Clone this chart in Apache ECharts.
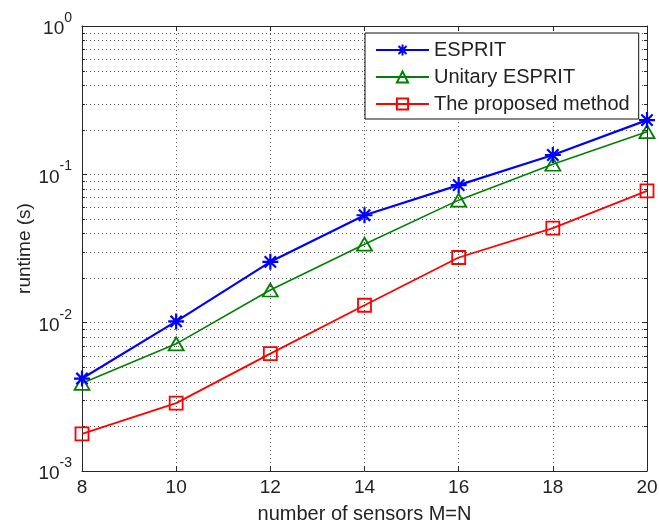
<!DOCTYPE html>
<html>
<head>
<meta charset="utf-8">
<script src="https://cdn.jsdelivr.net/npm/echarts@6/dist/echarts.min.js"></script>
<style>html,body{margin:0;padding:0;background:#fff;}#c{width:659px;height:526px;}</style>
</head>
<body>
<div id="c"></div>
<script>
const sensors = [8, 10, 12, 14, 16, 18, 20];
const esprit = [0.0042, 0.0102, 0.0257, 0.053, 0.0846, 0.135, 0.232];
const unitary = [0.0039, 0.0072, 0.0166, 0.0338, 0.067, 0.117, 0.194];
const proposed = [0.00178, 0.00287, 0.00618, 0.0131, 0.0275, 0.0434, 0.0774];
const seriesNames = ['ESPRIT', 'Unitary ESPRIT', 'The proposed method'];
const xTicks = [8, 10, 12, 14, 16, 18, 20];
const yRange = [0.001, 1];
const minorGrid = [0.002,0.003,0.004,0.005,0.006,0.007,0.008,0.009,
                   0.02,0.03,0.04,0.05,0.06,0.07,0.08,0.09,
                   0.2,0.3,0.4,0.5,0.6,0.7,0.8,0.9];

const xMin = xTicks[0], xMax = xTicks[xTicks.length - 1];
const pairs = arr => sensors.map((x, i) => [x, arr[i]]);
const txt = '#222';
const gridColor = '#555';
const font = 'Liberation Sans, Arial, sans-serif';
const starPath = 'path://M0,-10L0,10M-10,0L10,0M-7.07,-7.07L7.07,7.07M-7.07,7.07L7.07,-7.07';

const chart = echarts.init(document.getElementById('c'));
chart.setOption({
  animation: false,
  backgroundColor: '#fff',
  textStyle: { fontFamily: font },
  grid: { left: 82, right: 12, top: 26, bottom: 55, show: false, outerBoundsMode: 'none', containLabel: false },
  legend: {
    data: seriesNames,
    orient: 'vertical',
    left: 365, top: 33,
    padding: [7, 9, 5, 10],
    itemWidth: 53, itemHeight: 14, itemGap: 7,
    backgroundColor: '#fff',
    borderColor: '#111', borderWidth: 1, borderRadius: 0,
    textStyle: { fontSize: 20, color: txt, fontFamily: font }
  },
  xAxis: [{
    type: 'value', min: xMin, max: xMax, interval: 2,
    name: 'number of sensors M=N', nameLocation: 'middle', nameGap: 33,
    nameMoveOverlap: false,
    nameTextStyle: { fontSize: 20, color: txt, fontFamily: font },
    axisLine: { show: true, onZero: false, lineStyle: { color: '#262626', width: 1 } },
    axisTick: { show: true, inside: true, length: 5, lineStyle: { color: '#262626' } },
    axisLabel: { fontSize: 19, color: txt, margin: 7, fontFamily: font },
    splitLine: { show: true, lineStyle: { color: gridColor, type: [1, 3], width: 1 } }
  }, {
    type: 'value', min: xMin, max: xMax, interval: 2, position: 'top',
    axisLine: { show: true, onZero: false, lineStyle: { color: '#262626', width: 1 } },
    axisTick: { show: true, inside: true, length: 5, lineStyle: { color: '#262626' } },
    axisLabel: { show: false }, splitLine: { show: false }
  }],
  yAxis: [{
    type: 'log', logBase: 10, min: yRange[0], max: yRange[1],
    name: 'runtime (s)', nameLocation: 'middle', nameGap: 48,
    nameMoveOverlap: false,
    nameTextStyle: { fontSize: 19, color: txt, fontFamily: font },
    axisLine: { show: true, onZero: false, lineStyle: { color: '#262626', width: 1 } },
    axisTick: { show: true, inside: true, length: 5, lineStyle: { color: '#262626' } },
    axisLabel: {
      margin: 10, color: txt, padding: [6, 0, 0, 0],
      formatter: v => '{b|10}{s|' + Math.round(Math.log10(v)) + '}',
      rich: {
        b: { fontSize: 19, lineHeight: 36, color: txt, fontFamily: font },
        s: { fontSize: 14, lineHeight: 14, color: txt, fontFamily: font, verticalAlign: 'top' }
      }
    },
    splitLine: { show: true, lineStyle: { color: gridColor, type: [1, 3], width: 1 } }
  }, {
    type: 'log', logBase: 10, min: yRange[0], max: yRange[1], position: 'right',
    axisLine: { show: true, onZero: false, lineStyle: { color: '#262626', width: 1 } },
    axisTick: { show: true, inside: true, length: 5, lineStyle: { color: '#262626' } },
    axisLabel: { show: false }, splitLine: { show: false }
  }],
  series: [{
    type: 'custom', name: 'minor', silent: true, z: 1,
    xAxisIndex: 0, yAxisIndex: 0,
    data: minorGrid.map(v => [xMin, v]),
    renderItem: (params, api) => {
      const v = api.value(1);
      const p1 = api.coord([xMin, v]);
      const p2 = api.coord([xMax, v]);
      const y = Math.round(p1[1]) + 0.5;
      return {
        type: 'group', children: [
          { type: 'line', shape: { x1: p1[0], y1: y, x2: p2[0], y2: y },
            style: { stroke: gridColor, lineWidth: 1, lineDash: [1, 3] } },
          { type: 'line', shape: { x1: p1[0], y1: y, x2: p1[0] + 3, y2: y },
            style: { stroke: '#262626', lineWidth: 1 } },
          { type: 'line', shape: { x1: p2[0] - 3, y1: y, x2: p2[0], y2: y },
            style: { stroke: '#262626', lineWidth: 1 } }
        ]
      };
    }
  }, {
    name: seriesNames[0], type: 'line', z: 4, data: pairs(esprit),
    symbol: starPath, symbolSize: 16,
    lineStyle: { color: '#0000ff', width: 2.2 },
    itemStyle: { color: '#0000ff', borderColor: '#0000ff', borderWidth: 2.2 }
  }, {
    name: seriesNames[1], type: 'line', z: 3, data: pairs(unitary),
    symbol: 'triangle', symbolSize: [15, 13],
    lineStyle: { color: '#008000', width: 1.6 },
    itemStyle: { color: 'rgba(0,0,0,0)', borderColor: '#008000', borderWidth: 1.8 }
  }, {
    name: seriesNames[2], type: 'line', z: 3, data: pairs(proposed),
    symbol: 'rect', symbolSize: 13,
    lineStyle: { color: '#ff0000', width: 1.8 },
    itemStyle: { color: 'rgba(0,0,0,0)', borderColor: '#ff0000', borderWidth: 1.8 }
  }]
});
</script>
</body>
</html>
